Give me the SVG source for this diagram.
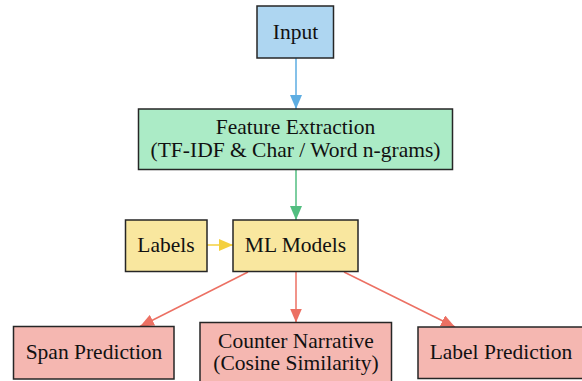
<svg xmlns="http://www.w3.org/2000/svg" width="582" height="381" viewBox="0 0 582 381">
<style>
.box{stroke:#262626;stroke-width:1.5}
.t{font-family:"Liberation Serif","Times New Roman",serif;font-size:21.5px;fill:#111;text-anchor:middle}
.blue{fill:#aed6f1}.green{fill:#abebc6}.yellow{fill:#f9e79f}.red{fill:#f5b7b1}
.e{fill:none;stroke-width:1.5}
</style>
<defs>
<marker id="ab" viewBox="0 0 14 12" refX="14" refY="6" markerWidth="14" markerHeight="12" markerUnits="userSpaceOnUse" orient="auto"><path d="M0,0L14,6L0,12z" fill="#5dade2"/></marker>
<marker id="ag" viewBox="0 0 14 12" refX="14" refY="6" markerWidth="14" markerHeight="12" markerUnits="userSpaceOnUse" orient="auto"><path d="M0,0L14,6L0,12z" fill="#52be80"/></marker>
<marker id="ay" viewBox="0 0 14 12" refX="14" refY="6" markerWidth="14" markerHeight="12" markerUnits="userSpaceOnUse" orient="auto"><path d="M0,0L14,6L0,12z" fill="#f4d03f"/></marker>
<marker id="ar" viewBox="0 0 14 12" refX="14" refY="6" markerWidth="14" markerHeight="12" markerUnits="userSpaceOnUse" orient="auto"><path d="M0,0L14,6L0,12z" fill="#ec7063"/></marker>
</defs>
<rect width="582" height="381" fill="#fff"/>
<g id="connectors">
<path class="e" d="M296,58V109" stroke="#5dade2" marker-end="url(#ab)"/>
<path class="e" d="M296,170V220" stroke="#52be80" marker-end="url(#ag)"/>
<path class="e" d="M207,245H233" stroke="#f4d03f" marker-end="url(#ay)"/>
<path class="e" d="M248,272L140,326.5" stroke="#ec7063" marker-end="url(#ar)"/>
<path class="e" d="M296,272V322.5" stroke="#ec7063" marker-end="url(#ar)"/>
<path class="e" d="M344,272L455,327" stroke="#ec7063" marker-end="url(#ar)"/>
</g>
<g id="input"><rect class="box blue" x="257" y="6" width="76.5" height="52"/><text class="t" x="295.5" y="39">Input</text></g>
<g id="feature"><rect class="box green" x="138.5" y="109" width="314" height="60.5"/><text class="t" x="295.5" y="134">Feature Extraction</text><text class="t" x="295.5" y="157">(TF-IDF &amp; Char / Word n-grams)</text></g>
<g id="labels"><rect class="box yellow" x="125.5" y="220" width="81.5" height="51.5"/><text class="t" x="166" y="252">Labels</text></g>
<g id="ml"><rect class="box yellow" x="233" y="220" width="125" height="51.5"/><text class="t" x="295.5" y="252">ML Models</text></g>
<g id="span"><rect class="box red" x="13.5" y="326.5" width="160.5" height="52.5"/><text class="t" x="94" y="359">Span Prediction</text></g>
<g id="counter"><rect class="box red" x="200" y="322.5" width="191.5" height="62"/><text class="t" x="296" y="348">Counter Narrative</text><text class="t" x="296" y="370">(Cosine Similarity)</text></g>
<g id="labelpred"><rect class="box red" x="418" y="327" width="166" height="51.5"/><text class="t" x="501" y="359">Label Prediction</text></g>
</svg>
